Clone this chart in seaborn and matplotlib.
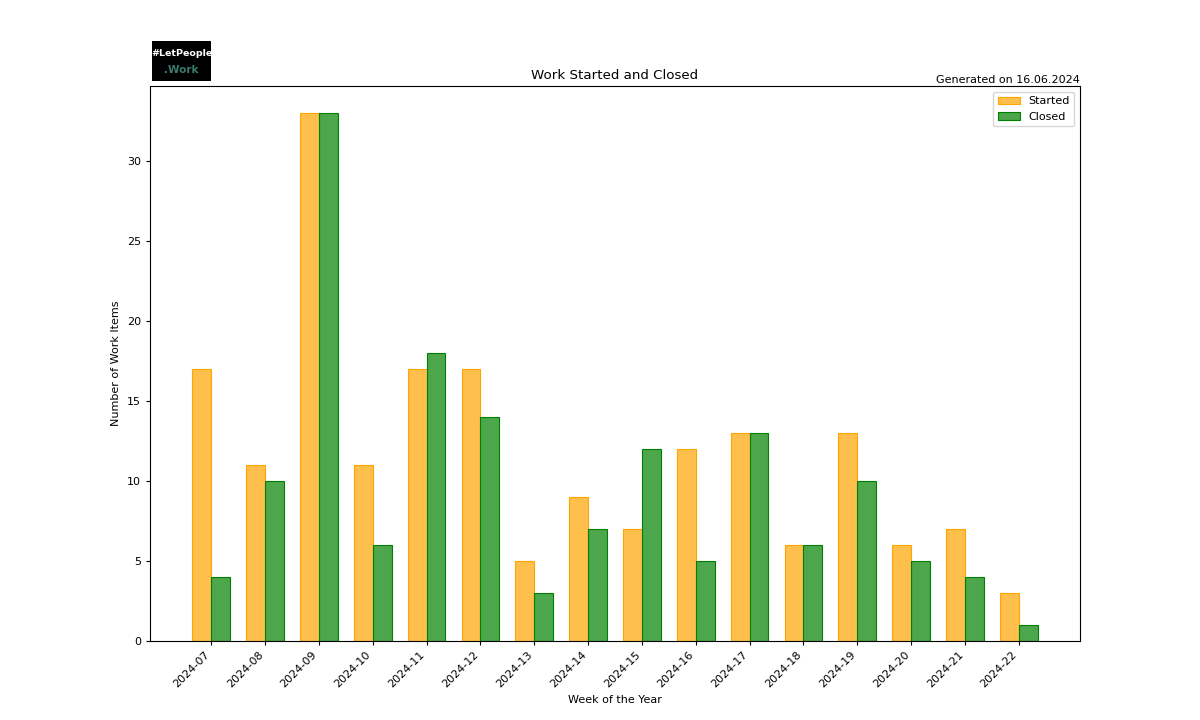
import matplotlib.pyplot as plt
import matplotlib.colors as mcolors
import seaborn as sns
import pandas as pd

weeks = ["2024-07", "2024-08", "2024-09", "2024-10", "2024-11", "2024-12", "2024-13", "2024-14",
         "2024-15", "2024-16", "2024-17", "2024-18", "2024-19", "2024-20", "2024-21", "2024-22"]
started = [17, 11, 33, 11, 17, 17, 5, 9, 7, 12, 13, 6, 13, 6, 7, 3]
closed = [4, 10, 33, 6, 18, 14, 3, 7, 12, 5, 13, 6, 10, 5, 4, 1]

df = pd.DataFrame({
    "week": weeks * 2,
    "count": started + closed,
    "kind": ["Started"] * len(weeks) + ["Closed"] * len(weeks),
})

plt.rcParams["font.size"] = 8
plt.rcParams["xtick.major.size"] = 3
plt.rcParams["ytick.major.size"] = 3

fig, ax = plt.subplots(figsize=(12, 7.2), dpi=100)

face = {"Started": mcolors.to_rgba("orange", 0.7), "Closed": mcolors.to_rgba("green", 0.7)}
edge = {"Started": "orange", "Closed": "green"}

sns.barplot(data=df, x="week", y="count", hue="kind", hue_order=["Started", "Closed"],
            palette=face, saturation=1, width=0.7, gap=0, ax=ax, legend=False)

for container, kind in zip(ax.containers, ["Started", "Closed"]):
    for bar in container:
        bar.set_facecolor(face[kind])
        bar.set_edgecolor(edge[kind])
        bar.set_linewidth(0.8)
    container.set_label(kind)

n = len(weeks)
ax.set_xlim(-0.35 - 0.785, n - 1 + 0.35 + 0.785)
ax.set_ylim(0, 33 * 1.05)
ax.set_xticks(range(n))
ax.set_xticklabels(weeks, rotation=45, ha="right")

ax.set_title("Work Started and Closed", fontsize=9.6, pad=5)
ax.set_xlabel("Week of the Year")
ax.set_ylabel("Number of Work Items")
ax.legend(loc="upper right")

fig.text(0.9, 0.882, "Generated on 16.06.2024", ha="right", va="bottom", fontsize=8)

# logo
logo = fig.add_axes([152 / 1200, 1 - 81 / 720, 59 / 1200, 40 / 720])
logo.set_facecolor("black")
logo.set_xticks([])
logo.set_yticks([])
for s in logo.spines.values():
    s.set_visible(False)
logo.text(0.5, 0.7, "#LetPeople", color="white", ha="center", va="center",
          fontsize=6.8, fontweight="bold", transform=logo.transAxes)
logo.text(0.5, 0.27, ".Work", color="#3a7d6c", ha="center", va="center",
          fontsize=7.5, fontweight="bold", transform=logo.transAxes)

fig.savefig("out.png", dpi=100)
